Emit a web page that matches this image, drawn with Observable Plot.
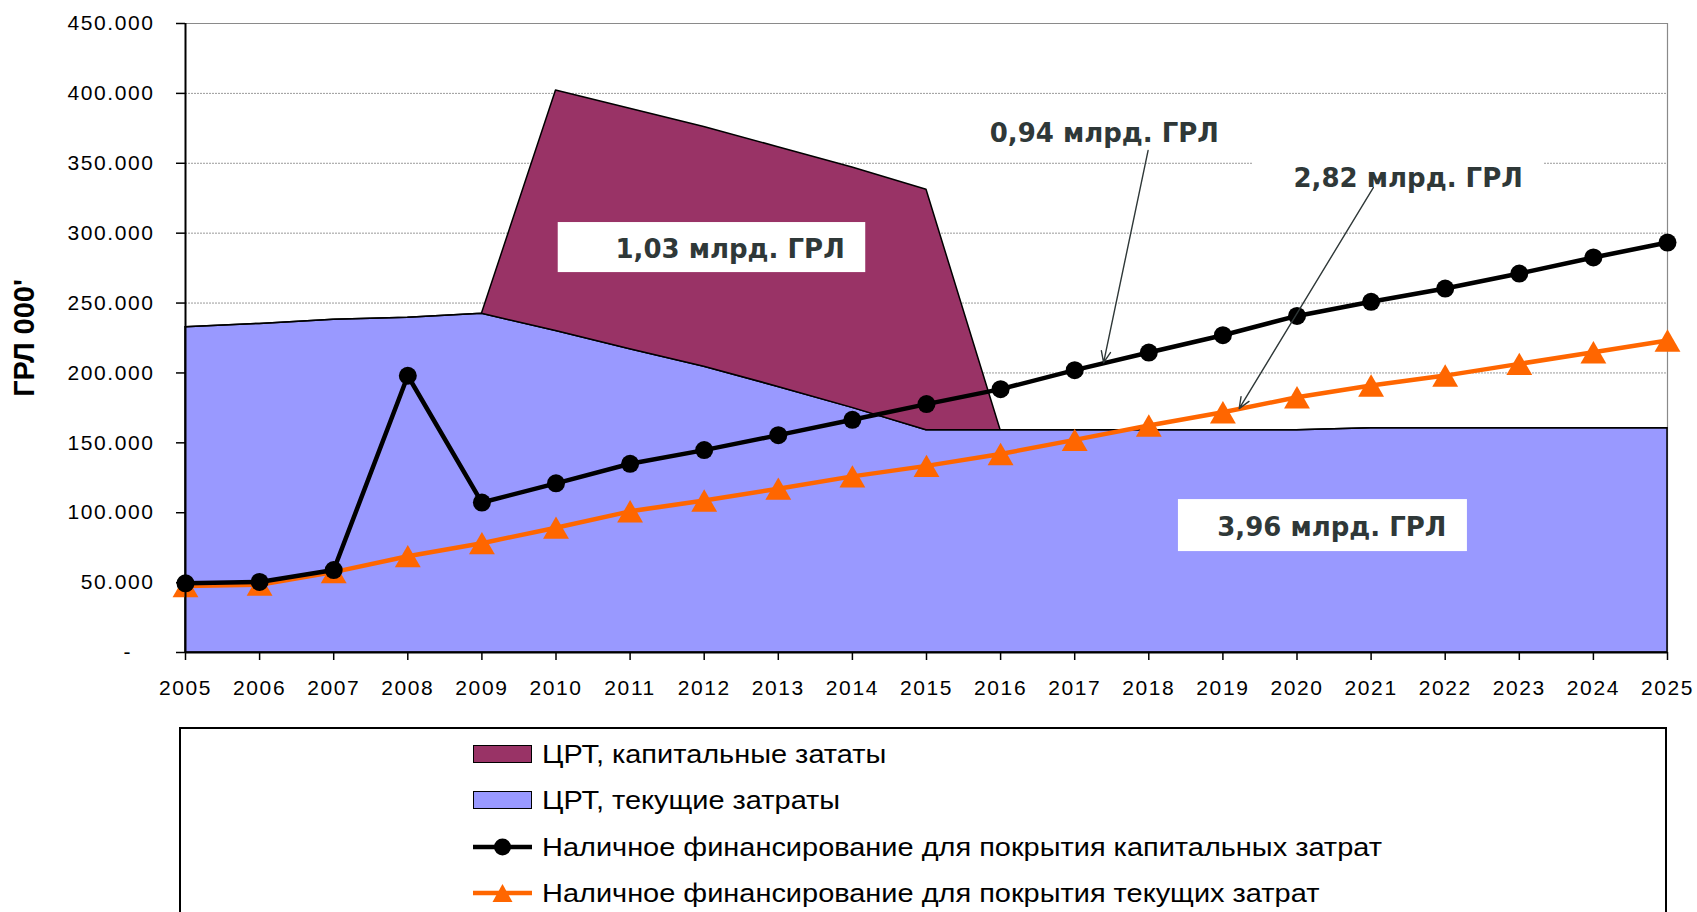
<!DOCTYPE html>
<html>
<head>
<meta charset="utf-8">
<script src="https://cdn.jsdelivr.net/npm/d3@7"></script>
<script src="https://cdn.jsdelivr.net/npm/@observablehq/plot@0.6"></script>
<style>
html, body { margin: 0; padding: 0; background: #fff; overflow: hidden; }
#wrap { position: relative; width: 1697px; height: 912px; overflow: hidden; font-family: "Liberation Sans", Arial, sans-serif; }
#chart { position: absolute; left: 0; top: 0; }
#legend { position: absolute; left: 179px; top: 727px; width: 1488px; height: 260px; border: 2px solid #000; box-sizing: border-box; }
.sw { position: absolute; left: 292px; width: 59px; height: 18px; box-sizing: border-box; border: 1.5px solid #000; }
.sl { position: absolute; left: 292px; width: 59px; height: 22px; }
.lt { position: absolute; left: 361px; font-size: 25.5px; line-height: 30px; white-space: nowrap; color: #000; transform: scaleX(1.135); transform-origin: left center; }
</style>
</head>
<body>
<div id="wrap">
  <div id="chart"></div>
  <div id="legend"></div>
</div>
<script>
// ---- data ----
const years = [2005, 2006, 2007, 2008, 2009, 2010, 2011, 2012, 2013, 2014, 2015,
               2016, 2017, 2018, 2019, 2020, 2021, 2022, 2023, 2024, 2025];

const seriesNames = [
  "ЦРТ, капитальные зататы",
  "ЦРТ, текущие затраты",
  "Наличное финансирование для покрытия капитальных затрат",
  "Наличное финансирование для покрытия текущих затрат"
];
const seriesColors = ["#993366", "#9999FF", "#000000", "#FF6600"];

const capitalCosts = [0, 0, 0, 0, 0, 172000, 172000, 171500, 171500, 172000, 172000,
                      0, 0, 0, 0, 0, 0, 0, 0, 0, 0];
const currentCosts = [232700, 235100, 238000, 239400, 242300, 230000, 217000, 204500, 190000, 175000, 159000,
                      159000, 159000, 159000, 159000, 159000, 160500, 160500, 160500, 160500, 160500];
const capitalFunding = [49500, 50500, 59000, 198000, 107300, 121000, 135000, 144800, 155500, 166500, 177700,
                        188400, 202000, 214600, 227000, 240800, 250900, 260400, 271100, 282600, 293300];
const currentFunding = [47500, 48500, 57500, 68900, 78200, 89300, 101000, 108700, 117200, 126000, 133500,
                        142000, 152100, 162400, 171900, 182600, 191000, 198100, 206500, 214800, 223200];

const yTicks = [0, 50000, 100000, 150000, 200000, 250000, 300000, 350000, 400000, 450000];
const yTitle = "ГРЛ 000'";

// annotations (in data units)
const labelTexts = ["1,03 млрд. ГРЛ", "3,96 млрд. ГРЛ", "2,82 млрд. ГРЛ", "0,94 млрд. ГРЛ"];
const labelX = [2012.35, 2020.47, 2021.50, 2017.40];
const labelY = [288300, 89600, 339000, 371200];
const boxX1 = [2010.03, 2018.40, 2019.41];
const boxX2 = [2014.18, 2022.30, 2023.33];
const boxY1 = [271800, 72200, 321000];
const boxY2 = [307600, 109400, 357000];
const arrowX1 = [2017.99, 2021.03];
const arrowY1 = [359100, 332600];
const arrowX2 = [2017.39, 2019.22];
const arrowY2 = [207400, 174500];

// ---- tables ----
const areaRows = [
  ...years.map((year, i) => ({year, series: seriesNames[1], value: currentCosts[i]})),
  ...years.map((year, i) => ({year, series: seriesNames[0], value: capitalCosts[i]}))
];
const capRows = years.map((year, i) => ({year, value: capitalFunding[i]}));
const curRows = years.map((year, i) => ({year, value: currentFunding[i]}));
const annotations = labelTexts.map((text, i) => ({text, x: labelX[i], y: labelY[i]}));
const boxes = boxX1.map((x1, i) => ({x1, x2: boxX2[i], y1: boxY1[i], y2: boxY2[i]}));
const arrows = arrowX1.map((x1, i) => ({x1, y1: arrowY1[i], x2: arrowX2[i], y2: arrowY2[i]}));

const fmtY = d => d === 0 ? "-\u00a0\u00a0\u00a0" : d3.format(",")(d).replace(/,/g, ".");

const chart = Plot.plot({
  width: 1697,
  height: 720,
  marginLeft: 185,
  marginRight: 30,
  marginTop: 23,
  marginBottom: 68,
  style: {fontFamily: '"Liberation Sans", Arial, sans-serif', background: "#fff", color: "#000", overflow: "visible"},
  x: {type: "linear", domain: [2005, 2025]},
  y: {domain: [0, 450000]},
  color: {domain: seriesNames, range: seriesColors},
  marks: [
    Plot.ruleY(yTicks.filter(d => d > 0 && d < 450000), {stroke: "#9a9a9a", strokeWidth: 1, strokeDasharray: "2,1"}),
    Plot.ruleY([450000], {stroke: "#8a8a8a", strokeWidth: 1.2}),
    Plot.ruleX([2025], {stroke: "#8a8a8a", strokeWidth: 1.2}),
    Plot.areaY(areaRows, {x: "year", y: "value", fill: "series", stroke: "#000", strokeWidth: 1.5, strokeLinejoin: "round"}),
    Plot.rect(boxes, {x1: "x1", x2: "x2", y1: "y1", y2: "y2", fill: "#fff"}),
    Plot.line(curRows, {x: "year", y: "value", stroke: seriesColors[3], strokeWidth: 4.5}),
    Plot.dot(curRows, {x: "year", y: "value", symbol: "triangle", r: 9.6, fill: seriesColors[3], dy: 3.7}),
    Plot.line(capRows, {x: "year", y: "value", stroke: seriesColors[2], strokeWidth: 4.5}),
    Plot.dot(capRows, {x: "year", y: "value", r: 9, fill: seriesColors[2]}),
    Plot.arrow(arrows, {x1: "x1", y1: "y1", x2: "x2", y2: "y2", stroke: "#2f3838", strokeWidth: 1.4, headLength: 13, headAngle: 45}),
    Plot.text(annotations, {x: "x", y: "y", text: "text", fontFamily: '"DejaVu Sans", Verdana, sans-serif', fontWeight: "bold", fontSize: 26, fill: "#2f3838", lineAnchor: "middle"}),
    Plot.ruleX([2005], {y1: 0, y2: 450000, stroke: "#000", strokeWidth: 2}),
    Plot.ruleY([0], {stroke: "#000", strokeWidth: 2}),
    Plot.axisY({ticks: yTicks, tickFormat: fmtY, tickSize: 9, tickPadding: 22, fontSize: 21, strokeWidth: 1.5, label: null}),
    Plot.axisX({ticks: years, tickFormat: d => String(d), tickSize: 8, tickPadding: 20, fontSize: 21, strokeWidth: 1.5, label: null}),
    Plot.text([yTitle], {frameAnchor: "left", textAnchor: "middle", lineAnchor: "middle", dx: -161, rotate: -90, fontSize: 29, fontWeight: "bold", fill: "#000"})
  ]
});

chart.querySelectorAll('g[aria-label="y-axis tick label"] text, g[aria-label="x-axis tick label"] text')
  .forEach(t => { t.style.letterSpacing = "1.6px"; });

document.getElementById("chart").appendChild(chart);

// ---- legend ----
const legend = document.getElementById("legend");
const svgns = "http://www.w3.org/2000/svg";
seriesNames.forEach((name, i) => {
  const center = 25 + i * 46.3;
  if (i < 2) {
    const sw = document.createElement("div");
    sw.className = "sw";
    sw.style.top = (center - 9) + "px";
    sw.style.background = seriesColors[i];
    legend.appendChild(sw);
  } else {
    const s = document.createElementNS(svgns, "svg");
    s.setAttribute("class", "sl");
    s.setAttribute("width", 59);
    s.setAttribute("height", 22);
    s.style.top = (center - 11) + "px";
    const ln = document.createElementNS(svgns, "line");
    ln.setAttribute("x1", 0); ln.setAttribute("x2", 59);
    ln.setAttribute("y1", 11); ln.setAttribute("y2", 11);
    ln.setAttribute("stroke", seriesColors[i]); ln.setAttribute("stroke-width", 4.5);
    s.appendChild(ln);
    if (i === 2) {
      const c = document.createElementNS(svgns, "circle");
      c.setAttribute("cx", 29.5); c.setAttribute("cy", 11); c.setAttribute("r", 8.5);
      c.setAttribute("fill", seriesColors[i]);
      s.appendChild(c);
    } else {
      const p = document.createElementNS(svgns, "path");
      p.setAttribute("d", "M29.5,2 L39.5,20 L19.5,20 Z");
      p.setAttribute("fill", seriesColors[i]);
      s.appendChild(p);
    }
    legend.appendChild(s);
  }
  const t = document.createElement("span");
  t.className = "lt";
  t.style.top = (center - 15) + "px";
  t.textContent = name;
  legend.appendChild(t);
});
</script>
</body>
</html>
